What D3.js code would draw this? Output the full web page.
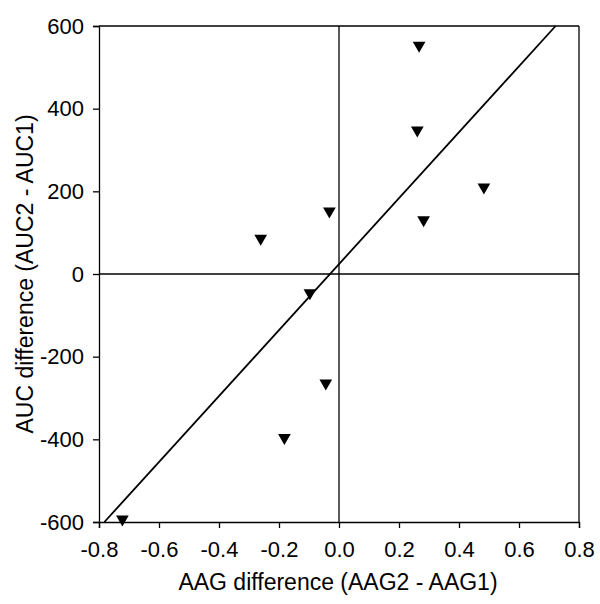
<!DOCTYPE html>
<html lang="en">
<head>
<meta charset="UTF-8">
<title></title>
<script src="https://d3js.org/d3.v7.min.js"></script>
<style>
	body { margin: 0; background: #fff; }
	text { font-family: "Liberation Sans", Arial, sans-serif; }
</style>
</head>
<body>
<svg id="drawing_pad" width="600" height="604"></svg>
<script>
	// AAG difference vs AUC difference
	let aagDiff = [0.267, 0.261, 0.483, 0.282, -0.032, -0.261, -0.097, -0.044, -0.182, -0.722];
	let aucDiff = [553, 348, 210, 131, 152, 86, -46, -264, -396, -593];
	// regression line end points
	let lineX = [-0.782, 0.722];
	let lineY = [-600, 600];
	let xTicks = [-0.8, -0.6, -0.4, -0.2, 0.0, 0.2, 0.4, 0.6, 0.8];
	let yTicks = [-600, -400, -200, 0, 200, 400, 600];

	let svg = d3.select("#drawing_pad");
	let x = d3.scaleLinear().domain([-0.8, 0.8]).range([99, 579]);
	let y = d3.scaleLinear().domain([-600, 600]).range([522, 26]);

	// plain hyphen for negatives, like the original
	let fx = function(d){ return d3.format(".1f")(d).replace("\u2212", "-"); };
	let fy = function(d){ return String(d); };

	let xAxis = svg.append("g").attr("transform", "translate(0,522)")
		.call(d3.axisBottom(x).tickValues(xTicks).tickSize(6).tickPadding(13).tickFormat(fx));
	let yAxis = svg.append("g").attr("transform", "translate(99,0)")
		.call(d3.axisLeft(y).tickValues(yTicks).tickSize(6).tickPadding(9).tickFormat(fy));
	[xAxis, yAxis].forEach(function(a){
		a.select(".domain").attr("stroke", "#000").attr("stroke-width", 1.3);
		a.selectAll(".tick line").attr("stroke", "#000").attr("stroke-width", 1.3);
		a.selectAll("text").attr("fill", "#000").style("font-size", "22px")
			.style("font-family", "'Liberation Sans', Arial, sans-serif");
	});

	// frame top & right
	svg.append("line").attr("x1", x(-0.8)).attr("x2", x(0.8)).attr("y1", y(600)).attr("y2", y(600))
		.attr("stroke", "#000").attr("stroke-width", 1.3);
	svg.append("line").attr("x1", x(0.8)).attr("x2", x(0.8)).attr("y1", y(600)).attr("y2", y(-600))
		.attr("stroke", "#000").attr("stroke-width", 1.3);

	// zero lines
	svg.append("line").attr("x1", x(0)).attr("x2", x(0)).attr("y1", y(600)).attr("y2", y(-600))
		.attr("stroke", "#000").attr("stroke-width", 1.3);
	svg.append("line").attr("x1", x(-0.8)).attr("x2", x(0.8)).attr("y1", y(0)).attr("y2", y(0))
		.attr("stroke", "#000").attr("stroke-width", 1.3);

	// regression line
	svg.append("line").attr("x1", x(lineX[0])).attr("x2", x(lineX[1]))
		.attr("y1", y(lineY[0])).attr("y2", y(lineY[1]))
		.attr("stroke", "#000").attr("stroke-width", 1.8);

	// points (down triangles)
	let tri = d3.symbol().type(d3.symbolTriangle).size(70);
	svg.selectAll(".pt").data(aagDiff).enter().append("path")
		.attr("class", "pt")
		.attr("d", tri)
		.attr("transform", function(d, i){ return "translate(" + x(d) + "," + y(aucDiff[i]) + ") rotate(180)"; })
		.attr("fill", "#000");

	svg.append("text").attr("x", 338).attr("y", 590).attr("text-anchor", "middle")
		.attr("font-size", 23).text("AAG difference (AAG2 - AAG1)");
	svg.append("text").attr("transform", "translate(33,274) rotate(-90)").attr("text-anchor", "middle")
		.attr("font-size", 23).text("AUC difference (AUC2 - AUC1)");
</script>
</body>
</html>
